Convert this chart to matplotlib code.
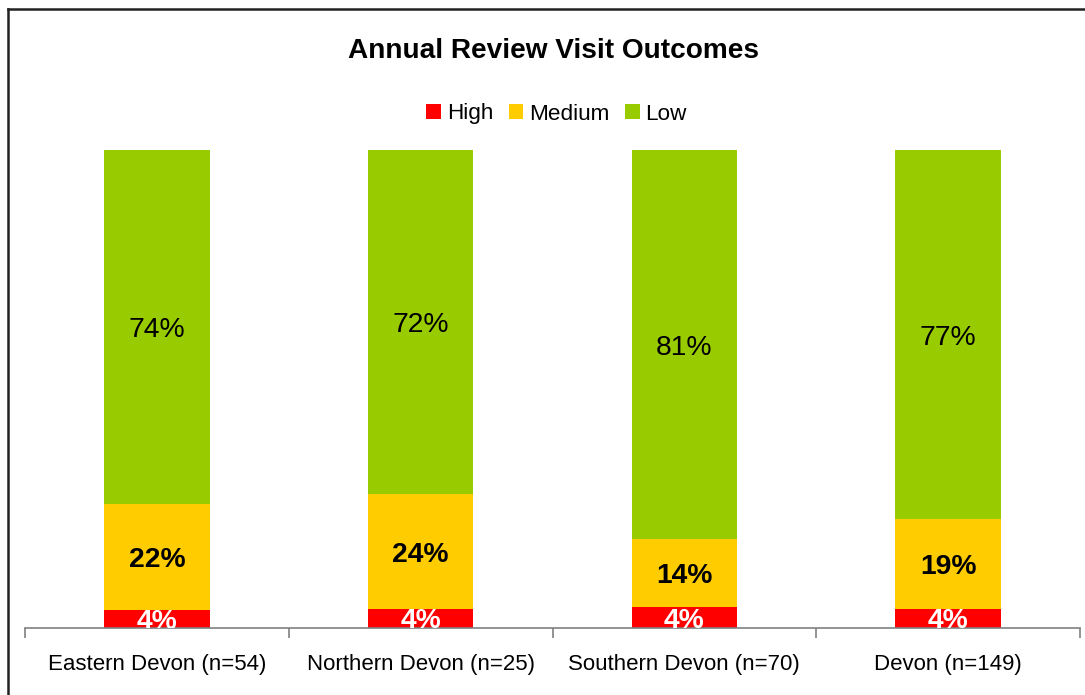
import matplotlib
matplotlib.use("Agg")
import matplotlib.pyplot as plt
from matplotlib.lines import Line2D
from matplotlib.patches import Patch
import numpy as np

plt.rcParams["font.family"] = ["Liberation Sans", "DejaVu Sans"]

# Data (percent of visits per area)
categories = ["Eastern Devon (n=54)", "Northern Devon (n=25)",
              "Southern Devon (n=70)", "Devon (n=149)"]
high = [3.7, 4.0, 4.3, 4.0]
medium = [22.2, 24.0, 14.3, 18.8]
low = [74.1, 72.0, 81.4, 77.2]

series = [
    ("High", high, "#FF0000"),
    ("Medium", medium, "#FFCC00"),
    ("Low", low, "#99CC00"),
]
label_style = {
    "High": dict(color="white", fontweight="bold"),
    "Medium": dict(color="black", fontweight="bold"),
    "Low": dict(color="black", fontweight="normal"),
}

W, H = 1085, 695
fig = plt.figure(figsize=(W / 100, H / 100), dpi=100)
ax = fig.add_axes([25 / W, (H - 628) / H, (1080 - 25) / W, (628 - 150) / H])

x = np.arange(len(categories))
bottom = np.zeros(len(categories))
for name, vals, color in series:
    vals = np.array(vals)
    ax.bar(x, vals, width=0.40, bottom=bottom, color=color, linewidth=0)
    for xi, b, v in zip(x, bottom, vals):
        ax.text(xi, b + v / 2, f"{v:.0f}%", ha="center", va="center_baseline",
                fontsize=20.3, clip_on=True, **label_style[name])
    bottom += vals

ax.set_xlim(-0.5, len(categories) - 0.5)
ax.set_ylim(0, 100)
ax.set_yticks([])
for s in ("left", "right", "top"):
    ax.spines[s].set_visible(False)
ax.spines["bottom"].set_color("#808080")
ax.spines["bottom"].set_linewidth(1.2)

ax.set_xticks(x)
ax.set_xticklabels(categories, fontsize=16)
ax.tick_params(axis="x", which="major", length=0, pad=18.5)
ax.set_xticks(np.arange(-0.5, len(categories)), minor=True)
ax.tick_params(axis="x", which="minor", length=7, width=1.2, color="#808080")

fig.text(0.51, 1 - 51 / H, "Annual Review Visit Outcomes", ha="center",
         va="center", fontsize=20.2, fontweight="bold")

handles = [Patch(facecolor=c, edgecolor="none", label=n) for n, _, c in series]
fig.legend(handles=handles, loc="center", bbox_to_anchor=(0.513, 1 - 114 / H),
           ncol=3, frameon=False, fontsize=16.2, handlelength=0.65,
           handleheight=0.65, handletextpad=0.25, columnspacing=0.7)

# outer chart frame
fig.add_artist(Line2D([8 / W, 8 / W], [0, 1 - 9 / H], color="#222222", lw=1.8))
fig.add_artist(Line2D([8 / W, 1], [1 - 9 / H, 1 - 9 / H], color="#222222", lw=1.8))

fig.savefig("out.png", dpi=100)
